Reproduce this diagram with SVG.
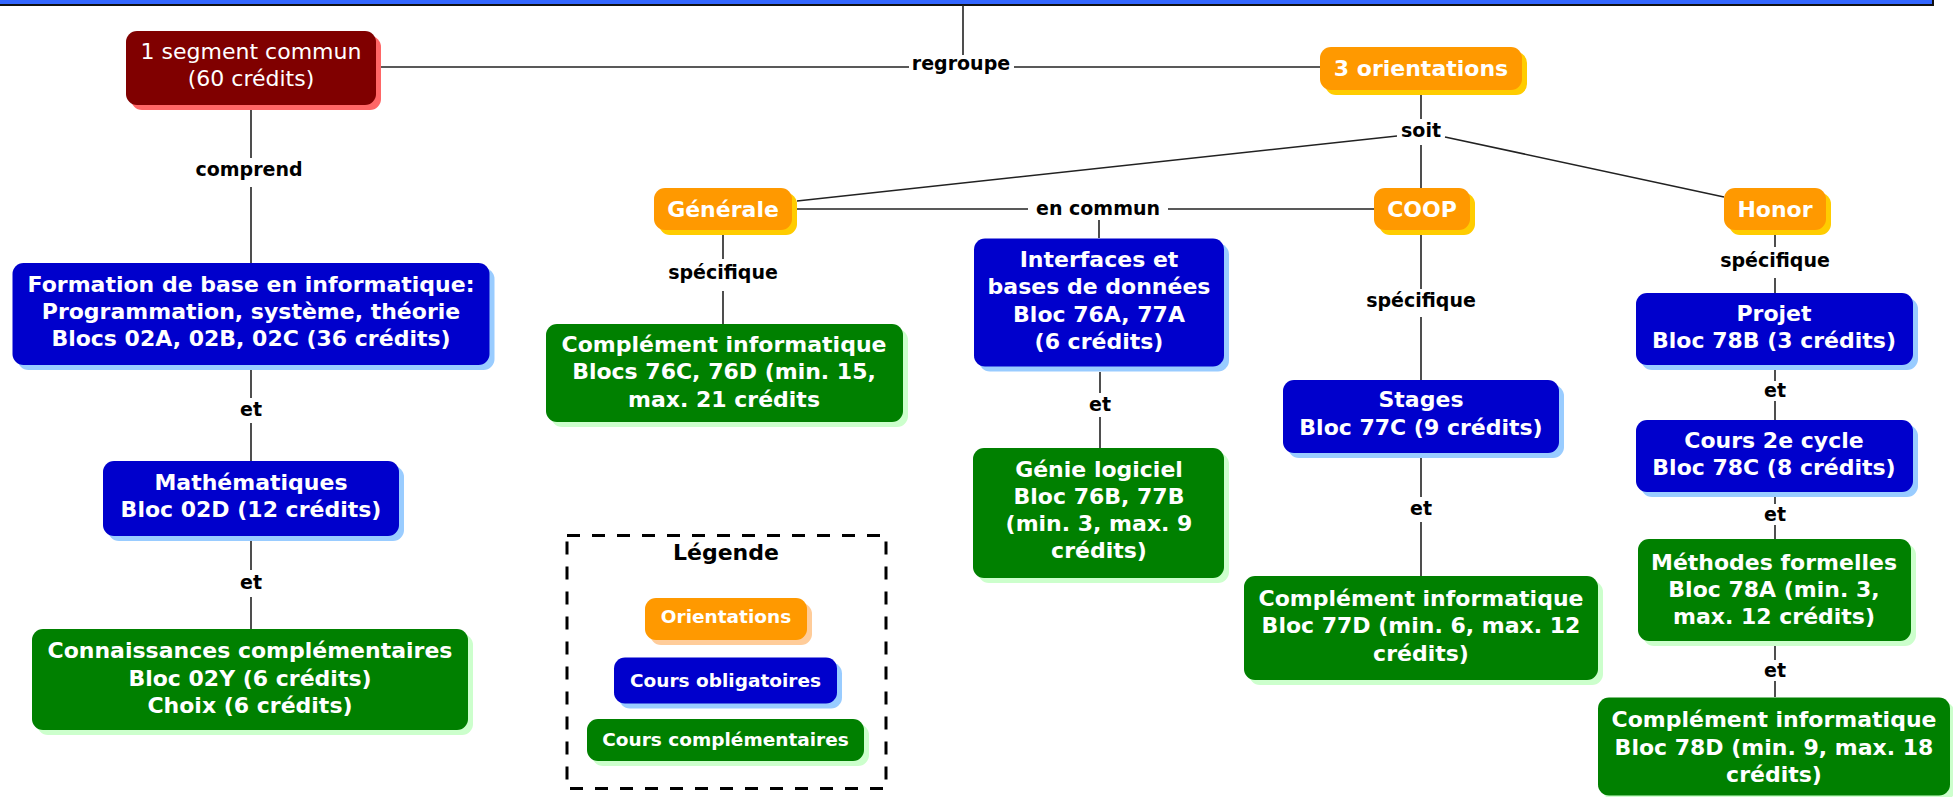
<svg xmlns="http://www.w3.org/2000/svg" width="1953" height="797" viewBox="0 0 1953 797">
<style>
.nt{font-family:"DejaVu Sans",Verdana,sans-serif;font-weight:bold;font-size:22px;fill:#fff;text-anchor:middle}
.reg{font-weight:normal}
.lbl{font-family:"DejaVu Sans",Verdana,sans-serif;font-weight:bold;font-size:19px;fill:#000;text-anchor:middle}
.lg{font-size:18.5px}
.conn line{stroke:#222;stroke-width:1.6}
.red{fill:#800000}.reds{fill:#ff6666}
.org{fill:#ff9900}.orgs{fill:#ffcc00}.orgl{fill:#ffcc99}
.blu{fill:#0000cc}.blus{fill:#99ccff}
.grn{fill:#008000}.grns{fill:#ccffcc}
</style>
<rect x="0" y="0" width="1953" height="797" fill="#fff"/>
<rect x="-5" y="-20" width="1938" height="25" fill="#3366ff" stroke="#111" stroke-width="2"/>

<g id="connectors" class="conn">
<line x1="963" y1="5" x2="963" y2="55"/>
<line x1="381" y1="67" x2="909" y2="67"/>
<line x1="1014" y1="67" x2="1320" y2="67"/>
<line x1="1421" y1="95" x2="1421" y2="119"/>
<line x1="1397" y1="136" x2="797" y2="201"/>
<line x1="1421" y1="145" x2="1421" y2="188"/>
<line x1="1445" y1="137" x2="1724" y2="197"/>
<line x1="797" y1="209" x2="1028" y2="209"/>
<line x1="1168" y1="209" x2="1374" y2="209"/>
<line x1="1099" y1="220" x2="1099" y2="238"/>
<line x1="723" y1="235" x2="723" y2="259"/>
<line x1="723" y1="291" x2="723" y2="324"/>
<line x1="1421" y1="235" x2="1421" y2="289"/>
<line x1="1421" y1="317" x2="1421" y2="380"/>
<line x1="1775" y1="235" x2="1775" y2="247"/>
<line x1="1775" y1="278" x2="1775" y2="293"/>
<line x1="1775" y1="369" x2="1775" y2="381"/>
<line x1="1775" y1="401" x2="1775" y2="420"/>
<line x1="1775" y1="496" x2="1775" y2="504"/>
<line x1="1775" y1="525" x2="1775" y2="539"/>
<line x1="1775" y1="645" x2="1775" y2="660"/>
<line x1="1775" y1="681" x2="1775" y2="697"/>
<line x1="251" y1="110" x2="251" y2="158"/>
<line x1="251" y1="187" x2="251" y2="263"/>
<line x1="251" y1="370" x2="251" y2="398"/>
<line x1="251" y1="423" x2="251" y2="461"/>
<line x1="251" y1="541" x2="251" y2="570"/>
<line x1="251" y1="597" x2="251" y2="629"/>
<line x1="1100" y1="372" x2="1100" y2="393"/>
<line x1="1100" y1="417" x2="1100" y2="448"/>
<line x1="1421" y1="458" x2="1421" y2="497"/>
<line x1="1421" y1="522" x2="1421" y2="576"/>
<text class="lbl" x="961" y="70">regroupe</text>
<text class="lbl" x="1421" y="137">soit</text>
<text class="lbl" x="1098" y="215">en commun</text>
<text class="lbl" x="723" y="279">spécifique</text>
<text class="lbl" x="1421" y="307">spécifique</text>
<text class="lbl" x="1775" y="266.5">spécifique</text>
<text class="lbl" x="1775" y="397">et</text>
<text class="lbl" x="1775" y="521">et</text>
<text class="lbl" x="1775" y="677">et</text>
<text class="lbl" x="249" y="176">comprend</text>
<text class="lbl" x="251" y="416">et</text>
<text class="lbl" x="251" y="589">et</text>
<text class="lbl" x="1100" y="410.5">et</text>
<text class="lbl" x="1421" y="515">et</text>
</g>

<g id="segment">
<rect class="reds" x="131" y="36" width="250" height="74" rx="11"/>
<rect class="red" x="126" y="31" width="250" height="74" rx="11"/>
<text class="nt reg" x="251" y="59">1 segment commun</text>
<text class="nt reg" x="251" y="86">(60 crédits)</text>
</g>

<g id="orientations">
<rect class="orgs" x="1325" y="52" width="202" height="43" rx="11"/>
<rect class="org" x="1320" y="47" width="202" height="43" rx="11"/>
<text class="nt" x="1421" y="76">3 orientations</text>
</g>

<g id="generale">
<rect class="orgs" x="659" y="193" width="138" height="42" rx="11"/>
<rect class="org" x="654" y="188" width="138" height="42" rx="11"/>
<text class="nt" x="723" y="217">Générale</text>
</g>

<g id="coop">
<rect class="orgs" x="1379" y="193" width="96" height="42" rx="11"/>
<rect class="org" x="1374" y="188" width="96" height="42" rx="11"/>
<text class="nt" x="1422" y="217">COOP</text>
</g>

<g id="honor">
<rect class="orgs" x="1729" y="193" width="102" height="42" rx="11"/>
<rect class="org" x="1724" y="188" width="102" height="42" rx="11"/>
<text class="nt" x="1775" y="217">Honor</text>
</g>

<g id="formation">
<rect class="blus" x="17.5" y="268" width="477" height="102" rx="11"/>
<rect class="blu" x="12.5" y="263" width="477" height="102" rx="11"/>
<text class="nt" x="251" y="291.5">Formation de base en informatique:</text>
<text class="nt" x="251" y="318.5">Programmation, système, théorie</text>
<text class="nt" x="251" y="345.5">Blocs 02A, 02B, 02C (36 crédits)</text>
</g>

<g id="maths">
<rect class="blus" x="108" y="466" width="296" height="75" rx="11"/>
<rect class="blu" x="103" y="461" width="296" height="75" rx="11"/>
<text class="nt" x="251" y="489.5">Mathématiques</text>
<text class="nt" x="251" y="516.5">Bloc 02D (12 crédits)</text>
</g>

<g id="connaissances">
<rect class="grns" x="37" y="634" width="436" height="101" rx="11"/>
<rect class="grn" x="32" y="629" width="436" height="101" rx="11"/>
<text class="nt" x="250" y="658">Connaissances complémentaires</text>
<text class="nt" x="250" y="685.5">Bloc 02Y (6 crédits)</text>
<text class="nt" x="250" y="713">Choix (6 crédits)</text>
</g>

<g id="complement76">
<rect class="grns" x="551" y="329" width="357" height="98" rx="11"/>
<rect class="grn" x="546" y="324" width="357" height="98" rx="11"/>
<text class="nt" x="724" y="351.5">Complément informatique</text>
<text class="nt" x="724" y="379">Blocs 76C, 76D (min. 15,</text>
<text class="nt" x="724" y="406.5">max. 21 crédits</text>
</g>

<g id="interfaces">
<rect class="blus" x="979" y="243.5" width="250" height="128" rx="11"/>
<rect class="blu" x="974" y="238.5" width="250" height="128" rx="11"/>
<text class="nt" x="1099" y="266.5">Interfaces et</text>
<text class="nt" x="1099" y="294">bases de données</text>
<text class="nt" x="1099" y="321.5">Bloc 76A, 77A</text>
<text class="nt" x="1099" y="348.5">(6 crédits)</text>
</g>

<g id="genie">
<rect class="grns" x="978" y="453" width="251" height="130" rx="11"/>
<rect class="grn" x="973" y="448" width="251" height="130" rx="11"/>
<text class="nt" x="1099" y="476.5">Génie logiciel</text>
<text class="nt" x="1099" y="503.5">Bloc 76B, 77B</text>
<text class="nt" x="1099" y="531">(min. 3, max. 9</text>
<text class="nt" x="1099" y="558">crédits)</text>
</g>

<g id="stages">
<rect class="blus" x="1288" y="385" width="276" height="73" rx="11"/>
<rect class="blu" x="1283" y="380" width="276" height="73" rx="11"/>
<text class="nt" x="1421" y="407">Stages</text>
<text class="nt" x="1421" y="434.5">Bloc 77C (9 crédits)</text>
</g>

<g id="complement77">
<rect class="grns" x="1249" y="581" width="354" height="104" rx="11"/>
<rect class="grn" x="1244" y="576" width="354" height="104" rx="11"/>
<text class="nt" x="1421" y="605.5">Complément informatique</text>
<text class="nt" x="1421" y="633">Bloc 77D (min. 6, max. 12</text>
<text class="nt" x="1421" y="660.5">crédits)</text>
</g>

<g id="projet">
<rect class="blus" x="1641" y="298" width="277" height="72" rx="11"/>
<rect class="blu" x="1636" y="293" width="277" height="72" rx="11"/>
<text class="nt" x="1774" y="320.5">Projet</text>
<text class="nt" x="1774" y="348">Bloc 78B (3 crédits)</text>
</g>

<g id="cours2e">
<rect class="blus" x="1641" y="425" width="277" height="72" rx="11"/>
<rect class="blu" x="1636" y="420" width="277" height="72" rx="11"/>
<text class="nt" x="1774" y="447.5">Cours 2e cycle</text>
<text class="nt" x="1774" y="475">Bloc 78C (8 crédits)</text>
</g>

<g id="methodes">
<rect class="grns" x="1643" y="544" width="273" height="102" rx="11"/>
<rect class="grn" x="1638" y="539" width="273" height="102" rx="11"/>
<text class="nt" x="1774" y="569.5">Méthodes formelles</text>
<text class="nt" x="1774" y="597">Bloc 78A (min. 3,</text>
<text class="nt" x="1774" y="624">max. 12 crédits)</text>
</g>

<g id="complement78">
<rect class="grns" x="1603" y="702.5" width="352" height="98" rx="11"/>
<rect class="grn" x="1598" y="697.5" width="352" height="98" rx="11"/>
<text class="nt" x="1774" y="727">Complément informatique</text>
<text class="nt" x="1774" y="754.5">Bloc 78D (min. 9, max. 18</text>
<text class="nt" x="1774" y="782">crédits)</text>
</g>

<g id="legende">
<rect x="567" y="535.5" width="319" height="253" fill="none" stroke="#000" stroke-width="3" stroke-dasharray="13 12"/>
<text class="lbl" style="font-size:22px" x="726" y="560">Légende</text>
<rect class="orgl" x="650" y="603" width="162" height="42" rx="11"/>
<rect class="org" x="645" y="598" width="162" height="42" rx="11"/>
<text class="nt lg" x="726" y="623">Orientations</text>
<rect class="blus" x="619" y="662.5" width="223" height="46" rx="11"/>
<rect class="blu" x="614" y="657.5" width="223" height="46" rx="11"/>
<text class="nt lg" x="725.5" y="687">Cours obligatoires</text>
<rect class="grns" x="592" y="724" width="277" height="42" rx="11"/>
<rect class="grn" x="587" y="719" width="277" height="42" rx="11"/>
<text class="nt lg" x="725.5" y="746">Cours complémentaires</text>
</g>
</svg>
